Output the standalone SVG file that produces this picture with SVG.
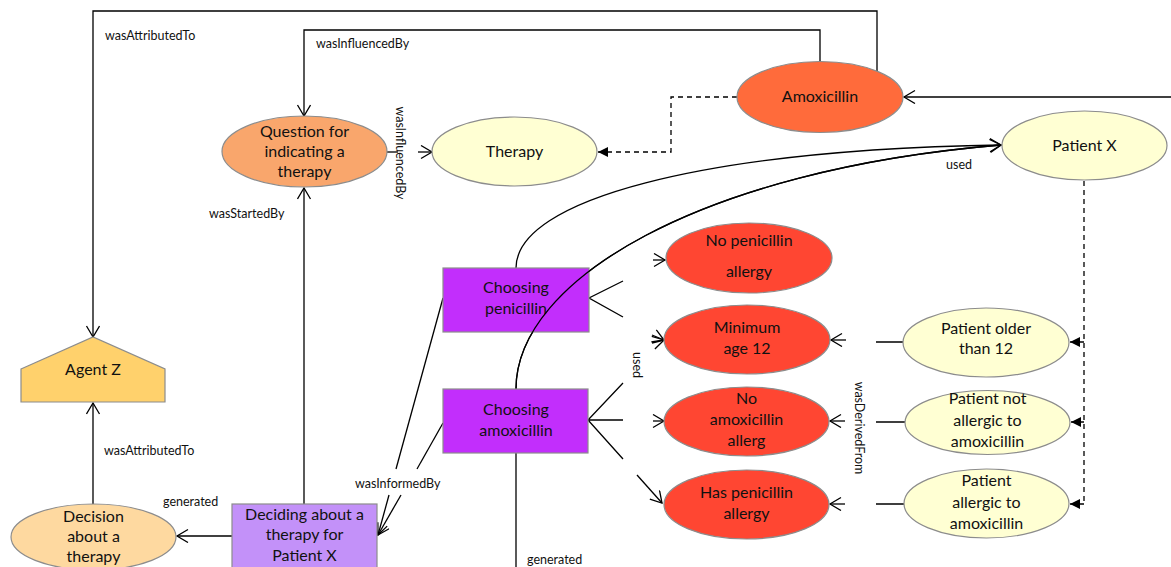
<svg xmlns="http://www.w3.org/2000/svg" width="1171" height="567" viewBox="0 0 1171 567">
<defs>
<style>
.n{font-family:Lato,"Liberation Sans",sans-serif;font-size:16px;fill:#111;text-anchor:middle}
.l{font-family:Lato,"Liberation Sans",sans-serif;font-size:12.5px;fill:#111}
.s{stroke:#8c8c8c;stroke-width:1.2}
.c{fill:none;stroke:#000;stroke-width:1.3}
.d{fill:none;stroke:#000;stroke-width:1.3;stroke-dasharray:5,4}
</style>
<marker id="oa" markerWidth="14" markerHeight="16" refX="12" refY="7" orient="auto" markerUnits="userSpaceOnUse"><path d="M1,0.5 L12,7 L1,13.5" fill="none" stroke="#000" stroke-width="1.3"/></marker>
<marker id="fa" markerWidth="12" markerHeight="12" refX="10" refY="5" orient="auto" markerUnits="userSpaceOnUse"><path d="M0,0 L10,5 L0,10 Z" fill="#000"/></marker>
</defs>
<rect width="1171" height="567" fill="#fff"/>

<g id="connectors">
<path class="c" d="M877,71 V11 H93 V337" marker-end="url(#oa)"/>
<path class="c" d="M820,61 V30 H304 V116" marker-end="url(#oa)"/>
<path class="c" d="M1171,97 H904" marker-end="url(#oa)"/>
<path class="d" d="M737,97 H671 V152 H598" marker-end="url(#fa)"/>
<path class="c" d="M387,152 H398"/>
<path class="c" d="M418,152 H432" marker-end="url(#oa)"/>
<path class="c" d="M304,505 V188" marker-end="url(#oa)"/>
<path class="c" d="M93,504 V403" marker-end="url(#oa)"/>
<path class="c" d="M232,536 H177" marker-end="url(#oa)"/>
<path class="c" d="M443,298 L396,469"/>
<path class="c" d="M443,423 L417,469"/>
<path class="c" d="M389,495 L378,535" marker-end="url(#oa)"/>
<path class="c" d="M401,495 L378,535" marker-end="url(#oa)"/>
<path class="c" d="M623,281 L589,298 L623,317"/>
<path class="c" d="M623,383 L588,420 L623,459 M588,420 H623"/>
<path class="c" d="M653,260 H665" marker-end="url(#oa)"/>
<path class="c" d="M652,335 L664,340" marker-end="url(#oa)"/>
<path class="c" d="M652,343 L664,340" marker-end="url(#oa)"/>
<path class="c" d="M653,421 H664" marker-end="url(#oa)"/>
<path class="c" d="M637,475 L662,503" marker-end="url(#oa)"/>
<path class="c" d="M516,268 C516,200 700,150 1001,145" marker-end="url(#oa)"/>
<path class="c" d="M516,389 C516,280 700,170 1001,145" marker-end="url(#oa)"/>
<path class="c" d="M516,453 V567"/>
<path class="c" d="M876,342 H903 M876,422 H905 M876,504 H904"/>
<path class="c" d="M846,340 H831" marker-end="url(#oa)"/>
<path class="c" d="M845,421 H830" marker-end="url(#oa)"/>
<path class="c" d="M845,504 H830" marker-end="url(#oa)"/>
<path class="d" d="M1084,181 V504"/>
<path class="d" d="M1084,342 H1070" marker-end="url(#fa)"/>
<path class="d" d="M1084,422 H1071" marker-end="url(#fa)"/>
<path class="d" d="M1084,504 H1070" marker-end="url(#fa)"/>
<text class="l" x="105" y="40">wasAttributedTo</text>
<text class="l" x="316" y="48">wasInfluencedBy</text>
<text class="l" x="209" y="218">wasStartedBy</text>
<text class="l" x="946" y="169">used</text>
<text class="l" x="104" y="455">wasAttributedTo</text>
<text class="l" x="163" y="506">generated</text>
<text class="l" x="355" y="488">wasInformedBy</text>
<text class="l" x="527" y="564">generated</text>
<text class="l" transform="translate(396,153) rotate(90)" text-anchor="middle">wasInfluencedBy</text>
<text class="l" transform="translate(633,365) rotate(90)" text-anchor="middle">used</text>
<text class="l" transform="translate(855,428) rotate(90)" text-anchor="middle">wasDerivedFrom</text>
</g>

<g id="amoxicillin"><ellipse class="s" cx="820" cy="97" rx="83" ry="35.5" fill="#ff6b3b"/><text class="n" x="820" y="102">Amoxicillin</text></g>
<g id="patient-x"><ellipse class="s" cx="1084.5" cy="145.5" rx="82.5" ry="34.5" fill="#ffffd3"/><text class="n" x="1084.5" y="151">Patient X</text></g>
<g id="question"><ellipse class="s" cx="304.5" cy="151.5" rx="82.5" ry="35.5" fill="#f9a66c"/><text class="n" x="304.5" y="137">Question for</text><text class="n" x="304.5" y="157">indicating a</text><text class="n" x="304.5" y="177">therapy</text></g>
<g id="therapy"><ellipse class="s" cx="514.5" cy="151.5" rx="82.5" ry="34.5" fill="#ffffd3"/><text class="n" x="514.5" y="157">Therapy</text></g>
<g id="agent-z"><polygon class="s" points="21,369 93,337 165,369 165,402 21,402" fill="#ffd16c"/><text class="n" x="93" y="375">Agent Z</text></g>
<g id="decision"><ellipse class="s" cx="93.5" cy="537" rx="82.5" ry="33" fill="#fed9a0"/><text class="n" x="93.5" y="522">Decision</text><text class="n" x="93.5" y="542">about a</text><text class="n" x="93.5" y="562">therapy</text></g>
<g id="deciding"><rect class="s" x="232" y="504" width="145" height="70" fill="#c391f9"/><text class="n" x="304.5" y="520">Deciding about a</text><text class="n" x="304.5" y="540">therapy for</text><text class="n" x="304.5" y="561">Patient X</text></g>
<g id="choosing-penicillin"><rect class="s" x="443" y="268" width="146" height="64" fill="#c22efc"/><text class="n" x="516" y="293">Choosing</text><text class="n" x="516" y="314">penicillin</text></g>
<g id="connector-overlay"><path class="c" d="M516,389 C516,280 700,170 1001,145"/></g>
<g id="choosing-amoxicillin"><rect class="s" x="443" y="389" width="145" height="64" fill="#c22efc"/><text class="n" x="516" y="415">Choosing</text><text class="n" x="516" y="436">amoxicillin</text></g>
<g id="no-penicillin-allergy"><ellipse class="s" cx="749" cy="258" rx="83" ry="35" fill="#ff4632"/><text class="n" x="749" y="246">No penicillin</text><text class="n" x="749" y="277">allergy</text></g>
<g id="minimum-age"><ellipse class="s" cx="747" cy="339.5" rx="83" ry="34.5" fill="#ff4632"/><text class="n" x="747" y="333">Minimum</text><text class="n" x="747" y="354">age 12</text></g>
<g id="no-amoxicillin-allergy"><ellipse class="s" cx="746.5" cy="421.5" rx="82.5" ry="34.5" fill="#ff4632"/><text class="n" x="746.5" y="404">No</text><text class="n" x="746.5" y="425">amoxicillin</text><text class="n" x="746.5" y="446">allerg</text></g>
<g id="has-penicillin-allergy"><ellipse class="s" cx="746.5" cy="504.5" rx="82.5" ry="34.5" fill="#ff4632"/><text class="n" x="746.5" y="498">Has penicillin</text><text class="n" x="746.5" y="519">allergy</text></g>
<g id="patient-older"><ellipse class="s" cx="986" cy="342.5" rx="83" ry="34.5" fill="#ffffd3"/><text class="n" x="986" y="334">Patient older</text><text class="n" x="986" y="354">than 12</text></g>
<g id="patient-not-allergic"><ellipse class="s" cx="987.5" cy="422.5" rx="82.5" ry="32" fill="#ffffd3"/><text class="n" x="987.5" y="404">Patient not</text><text class="n" x="987.5" y="426">allergic to</text><text class="n" x="987.5" y="447">amoxicillin</text></g>
<g id="patient-allergic"><ellipse class="s" cx="986.5" cy="503.5" rx="82.5" ry="34.5" fill="#ffffd3"/><text class="n" x="986.5" y="486">Patient</text><text class="n" x="986.5" y="508">allergic to</text><text class="n" x="986.5" y="529">amoxicillin</text></g>
</svg>
